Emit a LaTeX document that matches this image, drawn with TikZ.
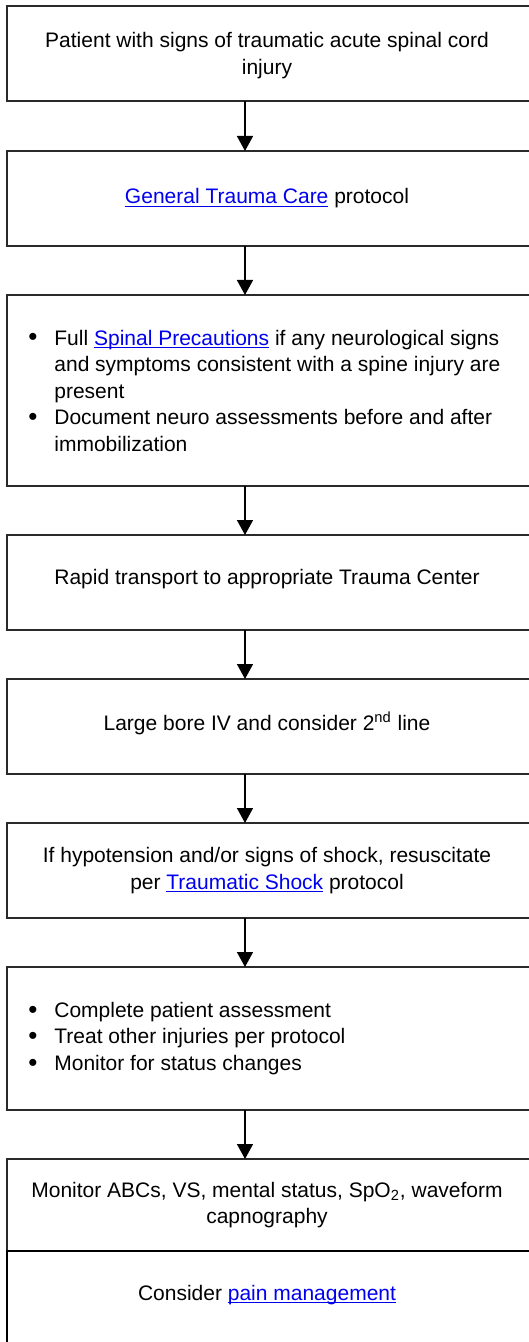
\documentclass[tikz,border=0pt]{standalone}
\usepackage{fontspec}
\setmainfont{Liberation Sans}
\usetikzlibrary{positioning, arrows.meta}
\definecolor{linkblue}{HTML}{0000EE}
\definecolor{edge}{HTML}{2A2A2A}
\newsavebox{\lnkbox}
\newcommand{\lnk}[1]{\textcolor{linkblue}{\sbox{\lnkbox}{#1}\rlap{\rule[-1.3pt]{\wd\lnkbox}{0.5pt}}\usebox{\lnkbox}}}
\newcommand{\bl}{\makebox[13pt][l]{\raisebox{-0.4pt}{\fontsize{13pt}{13pt}\selectfont\textbullet}}}
\newcommand{\ind}{\hspace*{13pt}}

\begin{document}
\begin{tikzpicture}[
      x=0.5pt, y=-0.5pt,
      font={\fontsize{10.5pt}{13.25pt}\selectfont},
      >={Triangle[length=7.5pt,width=8pt]},
      stepbox/.style={draw=edge, line width=0.75pt, minimum width=269pt,
                      inner sep=0pt, outer sep=0pt},
      txt/.style={align=center, inner sep=0pt},
      lst/.style={align=left, inner sep=0pt, anchor=west},
      flow/.style={->, line width=0.75pt, draw=black}
  ]
    \useasboundingbox (0,0) rectangle (529,1342);
    \clip (0,0) rectangle (529,1342);
    \coordinate (ax) at (245,0);
    \coordinate (cx) at (267,0);
    \coordinate (lx) at (28,0);
    % boxes
    \node[stepbox, anchor=north west, minimum height=47.5pt] (injury) at (7,6) {};
    \node[stepbox, minimum height=47.5pt, below=25pt of injury] (trauma) {};
    \node[stepbox, minimum height=95.5pt, below=24.5pt of trauma] (precaut) {};
    \node[stepbox, minimum height=47.5pt, below=24.5pt of precaut] (transport) {};
    \node[stepbox, minimum height=47.5pt, below=24.5pt of transport] (iv) {};
    \node[stepbox, minimum height=47.5pt, below=24.5pt of iv] (shock) {};
    \node[stepbox, minimum height=71.5pt, below=24.5pt of shock] (assess) {};
    \node[stepbox, minimum height=46pt, below=24.5pt of assess] (monitor) {};
    \node[stepbox, draw=black, line width=0.9pt, minimum height=50pt, below=0pt of monitor] (pain) {};
    % texts
    \node[txt] (injury-t) at ([yshift=-1pt]injury.center -| cx)
      {Patient with signs of traumatic acute spinal cord\\injury};
    \node[txt] (trauma-t) at (trauma.center -| cx)
      {\lnk{General Trauma Care} protocol};
    \node[lst] (precaut-t) at (precaut.center -| lx)
      {\bl Full \lnk{Spinal Precautions} if any neurological signs\\
       \ind and symptoms consistent with a spine injury are\\
       \ind present\\
       \bl Document neuro assessments before and after\\
       \ind immobilization};
    \node[txt] (transport-t) at ([yshift=1.5pt]transport.center -| cx)
      {Rapid transport to appropriate Trauma Center};
    \node[txt] (iv-t) at ([yshift=1.5pt]iv.center -| cx)
      {Large bore IV and consider 2\textsuperscript{nd} line};
    \node[txt] (shock-t) at (shock.center -| cx)
      {If hypotension and/or signs of shock, resuscitate\\
       per \lnk{Traumatic Shock} protocol};
    \node[lst] (assess-t) at (assess.center -| lx)
      {\bl Complete patient assessment\\
       \bl Treat other injuries per protocol\\
       \bl Monitor for status changes};
    \node[txt] (monitor-t) at (monitor.center -| cx)
      {Monitor ABCs, VS, mental status, SpO\textsubscript{2}, waveform\\capnography};
    \node[txt] (pain-t) at ([yshift=-22pt]pain.north -| cx)
      {Consider \lnk{pain management}};
    % connectors
    \foreach \a/\b in {injury/trauma, trauma/precaut, precaut/transport,
                       transport/iv, iv/shock, shock/assess, assess/monitor}
      \draw[flow] (\a.south -| ax) -- (\b.north -| ax);
  \end{tikzpicture}
\end{document}
